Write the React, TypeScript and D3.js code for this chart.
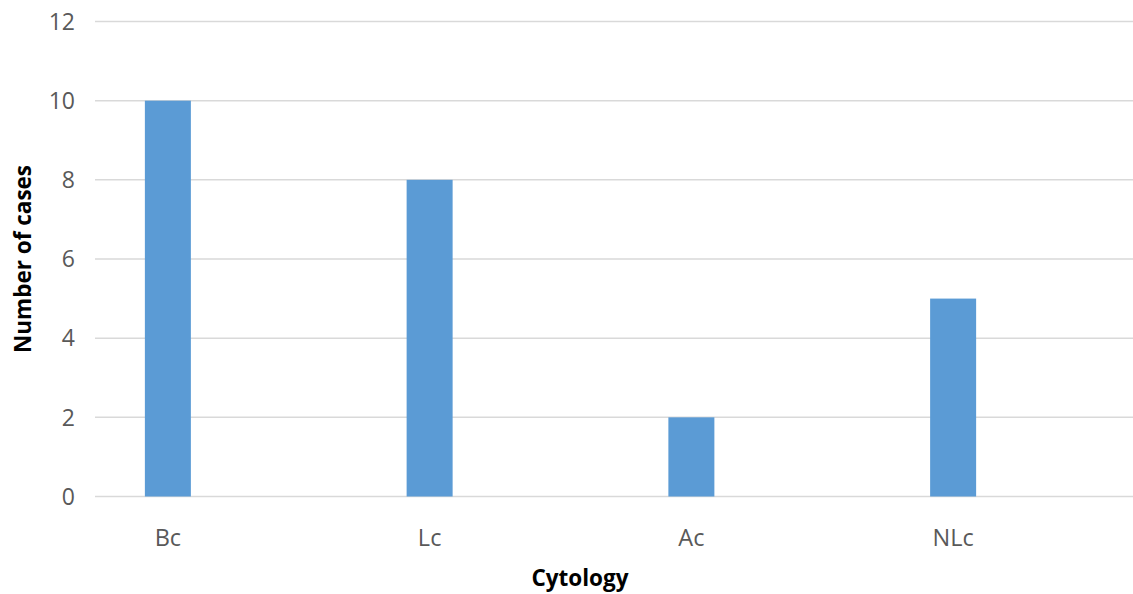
import React from "react";
import * as d3 from "d3";

const categories = ["Bc", "Lc", "Ac", "NLc"];
const cases = [10, 8, 2, 5];
const yTicks = [0, 2, 4, 6, 8, 10, 12];

const W = 1133;
const H = 594;
const gridLeft = 95;
const gridRight = 1133;
const barWidth = 46;

export default function App() {
  const x = d3.scaleBand<string>().domain(categories).range([37, 1084]).padding(0);
  const y = d3.scaleLinear().domain([0, 12]).range([496.5, 21.5]);
  const font = "'Open Sans', 'Liberation Sans', sans-serif";

  return (
    <svg
      width={W}
      height={H}
      style={{ position: "absolute", left: 0, top: 0, background: "#fff" }}
    >
      {yTicks.map((t) => (
        <g key={t}>
          <line
            x1={gridLeft}
            x2={gridRight}
            y1={y(t)}
            y2={y(t)}
            stroke="#d9d9d9"
            strokeWidth={1.5}
          />
          <text
            x={75}
            y={y(t)}
            dy="0.36em"
            textAnchor="end"
            fontFamily={font}
            fontSize={23}
            fill="#595959"
          >
            {t}
          </text>
        </g>
      ))}
      {categories.map((c, i) => {
        const cx = (x(c) ?? 0) + x.bandwidth() / 2;
        return (
          <g key={c}>
            <rect
              x={cx - barWidth / 2}
              y={y(cases[i])}
              width={barWidth}
              height={y(0) - y(cases[i])}
              fill="#5b9bd5"
            />
            <text
              x={cx}
              y={546}
              textAnchor="middle"
              fontFamily={font}
              fontSize={23.5}
              fill="#595959"
            >
              {c}
            </text>
          </g>
        );
      })}
      <text
        x={580}
        y={586}
        textAnchor="middle"
        fontFamily={font}
        fontSize={22.5}
        fontWeight="bold"
        fill="#000"
      >
        Cytology
      </text>
      <text
        transform={`translate(31, 259) rotate(-90)`}
        textAnchor="middle"
        fontFamily={font}
        fontSize={22.5}
        fontWeight="bold"
        fill="#000"
      >
        Number of cases
      </text>
    </svg>
  );
}
